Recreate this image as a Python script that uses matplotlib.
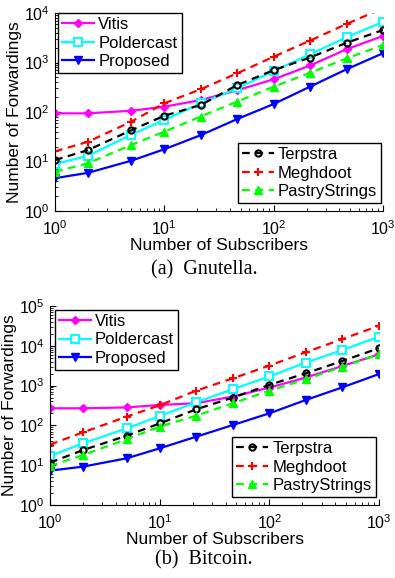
import numpy as np
import matplotlib
matplotlib.use('Agg')
import matplotlib.pyplot as plt
from matplotlib.ticker import LogLocator

plt.rcParams['font.family'] = ['Liberation Sans', 'DejaVu Sans']
plt.rcParams['font.size'] = 12

# number of subscribers (x axis)
subscribers = [1, 2, 5, 10, 21.5, 46.4, 100, 215, 464, 1000]

# (a) Gnutella
gn_vitis = [94, 94, 106, 128, 174, 275, 457, 870, 1850, 3440]
gn_polder = [8.9, 13, 35, 69, 150, 300, 670, 1470, 3230, 6630]
gn_proposed = [4.6, 5.9, 10.4, 17.7, 34, 72, 145, 325, 730, 1540]
gn_terpstra = [10.7, 17, 43, 84, 138, 350, 700, 1260, 2500, 4530]
gn_meghdoot = [16, 25, 64, 150, 288, 605, 1310, 2770, 6000, 12500]
gn_pastry = [6.2, 9.2, 21.6, 40, 81, 162, 324, 620, 1210, 2250]

# (b) Bitcoin
bt_vitis = [269, 269, 283, 326, 360, 530, 890, 1590, 3110, 6100]
bt_polder = [17, 35.5, 84, 172, 380, 810, 1700, 3800, 7800, 16900]
bt_proposed = [7.3, 9.2, 14.9, 26.5, 52, 102, 201, 435, 905, 1950]
bt_terpstra = [11.6, 24, 55, 112, 253, 500, 1040, 2040, 4160, 8700]
bt_meghdoot = [33, 67, 166, 320, 745, 1520, 3170, 6900, 14800, 31900]
bt_pastry = [9.6, 18, 45, 93, 175, 360, 745, 1440, 2970, 6100]

W, H = 395, 578
fig = plt.figure(figsize=(W / 100, H / 100), dpi=100)


def px_axes(l, t, r, b):
    return fig.add_axes([l / W, 1 - b / H, (r - l) / W, (b - t) / H])


dash = (0, (3.5, 2.5))


def draw(ax, d, ymax, leg1_anchor, leg2_anchor):
    vit, pol, pro, ter, meg, pas = d
    h1 = ax.plot(subscribers, vit, '-', color='#ff00ff', marker='D', ms=4.5, lw=1.6, label='Vitis')[0]
    h2 = ax.plot(subscribers, pol, '-', color='#00ffff', marker='s', ms=5.5, mfc='white', mew=1.4, lw=1.6, label='Poldercast')[0]
    h3 = ax.plot(subscribers, pro, '-', color='#0000ff', marker='v', ms=6, lw=1.6, label='Proposed')[0]
    h4 = ax.plot(subscribers, ter, color='black', ls=dash, marker='o', ms=4.5, mfc='none', mew=1.5, lw=1.6, label='Terpstra')[0]
    h5 = ax.plot(subscribers, meg, color='#ff0000', ls=dash, marker='+', ms=5.5, mew=1.5, lw=1.6, label='Meghdoot')[0]
    h6 = ax.plot(subscribers, pas, color='#00ff00', ls=dash, marker='^', ms=6, lw=1.6, label='PastryStrings')[0]
    ax.set_xscale('log')
    ax.set_yscale('log')
    ax.set_xlim(1, 1000)
    ax.set_ylim(1, ymax)
    ax.yaxis.set_major_locator(LogLocator(base=10, numticks=20))
    ax.yaxis.set_minor_locator(LogLocator(base=10, subs=np.arange(2, 10), numticks=20))
    for s in ['top', 'right']:
        ax.spines[s].set_visible(False)
    ax.tick_params(which='both', direction='in', labelsize=11.5)
    ax.tick_params(axis='x', pad=6)
    ax.tick_params(axis='y', pad=4)
    ax.tick_params(which='major', length=4)
    ax.tick_params(which='minor', length=2)
    ax.set_xlabel('Number of Subscribers', fontsize=12.5, labelpad=0)
    ax.set_ylabel('Number of Forwardings', fontsize=12.5, labelpad=1)
    kw = dict(frameon=True, fancybox=False, edgecolor='black', framealpha=1,
              fontsize=12, labelspacing=0.2, handlelength=1.9, handletextpad=0.25,
              borderpad=0.25, borderaxespad=0)
    l1 = ax.legend(handles=[h1, h2, h3], loc='upper left', bbox_to_anchor=leg1_anchor, **kw)
    l1.get_frame().set_linewidth(1.0)
    ax.add_artist(l1)
    l2 = ax.legend(handles=[h4, h5, h6], loc='lower right', bbox_to_anchor=leg2_anchor, **kw)
    l2.get_frame().set_linewidth(1.0)


ax1 = px_axes(55, 13, 383, 211)
draw(ax1, [gn_vitis, gn_polder, gn_proposed, gn_terpstra, gn_meghdoot, gn_pastry],
     1e4, (0.01, 1.0), (0.995, 0.04))
fig.text(204 / W, 1 - 270 / H, '(a)  Gnutella.', ha='center', va='center',
         family='Liberation Serif', fontsize=14.5)

ax2 = px_axes(50, 306, 379, 505)
draw(ax2, [bt_vitis, bt_polder, bt_proposed, bt_terpstra, bt_meghdoot, bt_pastry],
     1e5, (0.015, 0.98), (0.99, 0.04))
fig.text(204 / W, 1 - 560 / H, '(b)  Bitcoin.', ha='center', va='center',
         family='Liberation Serif', fontsize=14.5)

fig.savefig('out.png', dpi=100)
